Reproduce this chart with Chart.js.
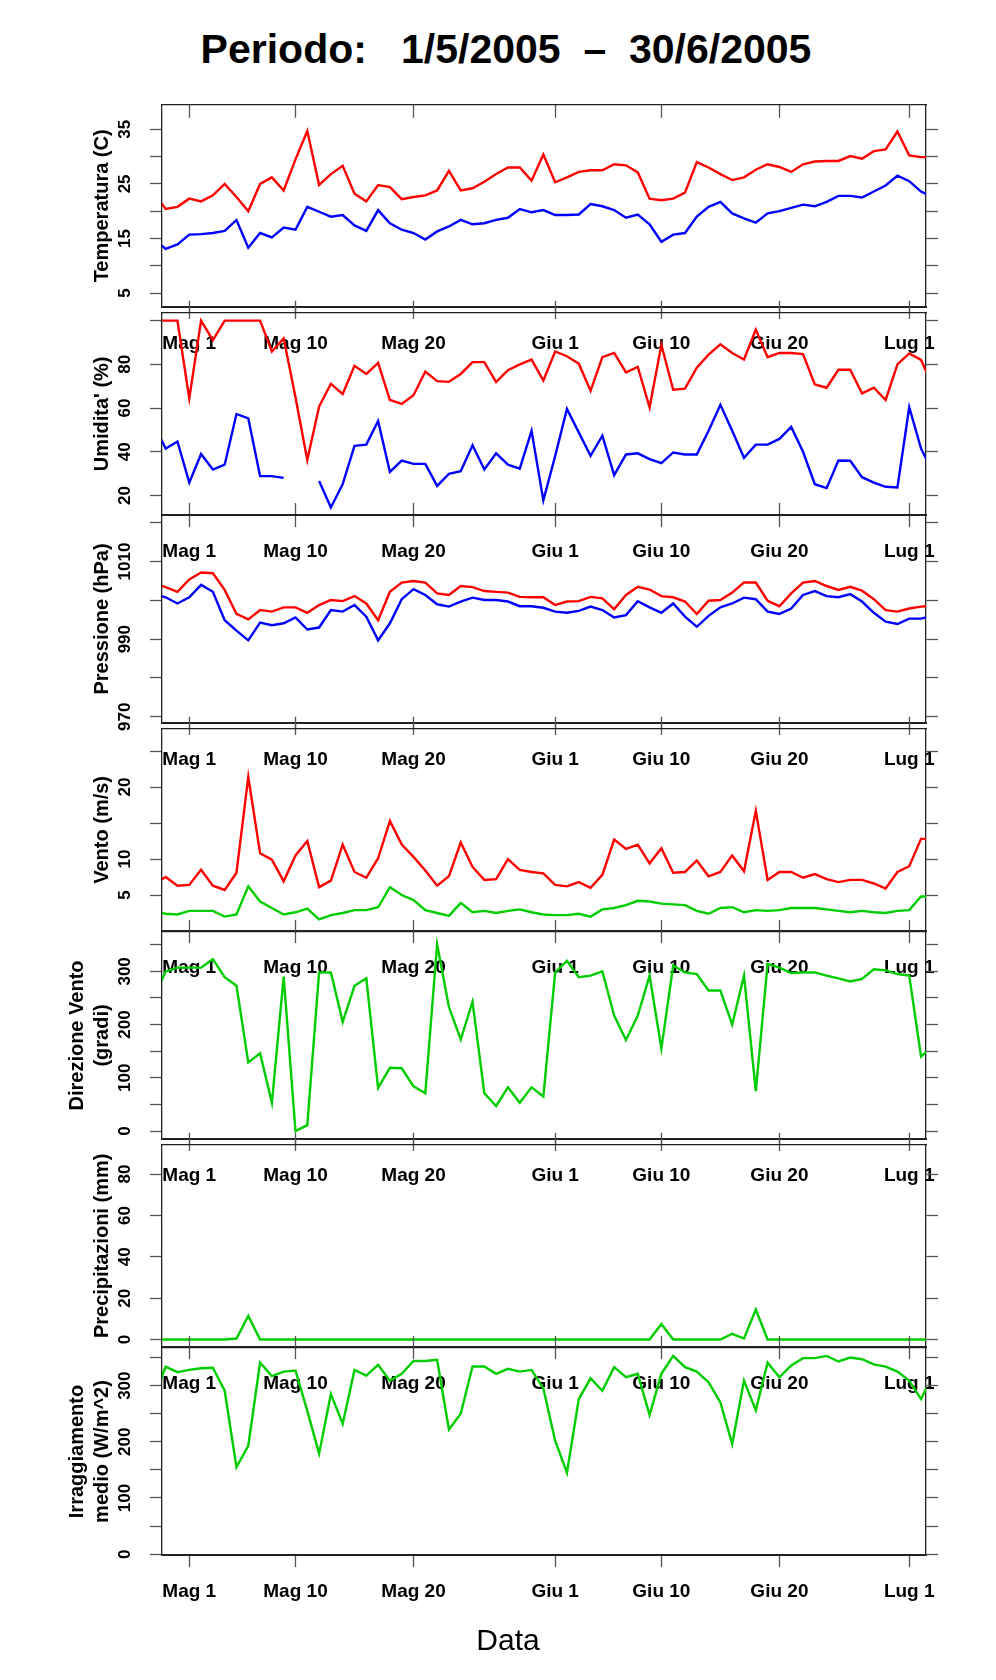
<!DOCTYPE html>
<html>
<head>
<meta charset="utf-8">
<title>Periodo: 1/5/2005 - 30/6/2005</title>
<script src="https://cdn.jsdelivr.net/npm/chart.js@4.4.1/dist/chart.umd.min.js"></script>
<style>
  html, body { margin: 0; padding: 0; background: #fff; }
  body { width: 996px; height: 1680px; position: relative; overflow: hidden; font-family: "Liberation Sans", Arial, sans-serif; color: #000; }
  #title { position: absolute; top: 29px; left: 506px; transform: translateX(-50%); font-size: 41px; font-weight: bold; line-height: 41px; white-space: pre; }
  #xlabel { position: absolute; top: 1625px; left: 508px; transform: translateX(-50%); font-size: 30px; line-height: 30px; }
  canvas { position: absolute; left: 0; }
</style>
</head>
<body>
<div id="title">Periodo:   1/5/2005  –  30/6/2005</div>
<div id="panels"></div>
<div id="xlabel">Data</div>

<script>
// ----------------------
// Data (x = days counted from 1 May 2005)
// ----------------------
const days = [
  -3, -2, -1, 0, 1, 2, 3, 4, 5, 6,
  7, 8, 9, 10, 11, 12, 13, 14, 15, 16,
  17, 18, 19, 20, 21, 22, 23, 24, 25, 26,
  27, 28, 29, 30, 31, 32, 33, 34, 35, 36,
  37, 38, 39, 40, 41, 42, 43, 44, 45, 46,
  47, 48, 49, 50, 51, 52, 53, 54, 55, 56,
  57, 58, 59, 60, 61, 62, 63
];
const dateTicks = [0, 9, 19, 31, 40, 50, 61];
const dateLabels = ["Mag 1", "Mag 10", "Mag 20", "Giu 1", "Giu 10", "Giu 20", "Lug 1"];

const tempMax = [
  23.3, 20.4, 20.8, 22.3, 21.8, 22.9, 25.0, 22.6, 20.0, 25.0,
  26.2, 23.8, 29.5, 34.7, 24.8, 26.8, 28.3, 23.2, 21.8, 24.8,
  24.4, 22.2, 22.6, 22.9, 23.8, 27.4, 23.8, 24.2, 25.4, 26.8,
  28.0, 28.0, 25.6, 30.4, 25.3, 26.2, 27.2, 27.5, 27.5, 28.6,
  28.4, 27.1, 22.3, 22.0, 22.3, 23.4, 29.0, 28.0, 26.8, 25.7,
  26.2, 27.6, 28.6, 28.1, 27.2, 28.6, 29.1, 29.2, 29.2, 30.1,
  29.6, 31.0, 31.3, 34.6, 30.2, 29.9, 29.9
];
const tempMin = [
  14.9, 13.1, 13.9, 15.7, 15.8, 16.0, 16.4, 18.4, 13.3, 16.0,
  15.2, 17.0, 16.6, 20.8, 19.9, 19.0, 19.3, 17.4, 16.4, 20.2,
  17.8, 16.6, 16.0, 14.8, 16.3, 17.2, 18.4, 17.6, 17.8, 18.4,
  18.8, 20.4, 19.8, 20.2, 19.3, 19.3, 19.4, 21.3, 20.9, 20.2,
  18.8, 19.4, 17.6, 14.4, 15.7, 16.0, 19.0, 20.8, 21.7, 19.6,
  18.7, 17.9, 19.6, 20.0, 20.6, 21.2, 20.9, 21.7, 22.8, 22.8,
  22.5, 23.6, 24.7, 26.5, 25.5, 23.6, 22.6
];
const humMax = [
  100, 100, 100, 64.4, 100, 91.1, 100, 100, 100, 100,
  85.9, 91.9, 65.0, 36.3, 60.7, 71.1, 66.4, 79.3, 75.6, 80.7,
  63.7, 61.9, 65.9, 76.7, 72.3, 72.0, 75.6, 81.0, 81.0, 71.9,
  77.3, 80.0, 82.2, 72.6, 85.9, 83.7, 80.3, 67.9, 83.3, 85.2,
  76.3, 78.8, 60.3, 88.9, 68.4, 68.9, 78.5, 84.4, 89.2, 85.2,
  82.2, 95.9, 83.3, 85.2, 85.2, 84.7, 70.8, 69.3, 77.5, 77.5,
  66.7, 69.3, 63.7, 80.0, 85.0, 82.0, 70.0
];
const humMin = [
  52.4, 41.5, 44.7, 25.9, 39.0, 31.9, 34.1, 57.3, 55.3, 28.9,
  28.9, 28.1, null, null, 26.7, 14.5, 25.2, 42.7, 43.3, 54.1,
  30.8, 36.0, 34.5, 34.5, 24.4, 29.9, 31.1, 43.0, 31.9, 39.3,
  34.1, 32.3, 49.6, 17.8, 38.0, 59.6, 48.9, 38.2, 47.4, 29.3,
  38.8, 39.3, 36.7, 34.8, 39.7, 38.8, 38.8, 49.6, 61.5, 49.6,
  37.3, 43.3, 43.3, 45.9, 51.4, 40.0, 25.2, 23.4, 36.0, 35.9,
  28.4, 25.9, 24.0, 23.7, 60.4, 41.5, 30.8
];
const presMax = [
  1004.3, 1003.4, 1002.2, 1005.4, 1007.2, 1007.0, 1002.7, 996.5, 995.1, 997.5,
  997.1, 998.2, 998.2, 996.8, 998.8, 1000.1, 999.8, 1001.1, 999.2, 994.9,
  1002.2, 1004.6, 1005.0, 1004.6, 1001.8, 1001.4, 1003.7, 1003.4, 1002.4, 1002.2,
  1002.0, 1000.9, 1000.8, 1000.8, 998.8, 999.7, 999.8, 1000.9, 1000.5, 997.7,
  1001.4, 1003.5, 1002.8, 1001.1, 1000.8, 999.7, 996.5, 999.9, 1000.1, 1002.0,
  1004.6, 1004.6, 999.9, 998.5, 1001.8, 1004.6, 1005.0, 1003.7, 1002.7, 1003.5,
  1002.5, 1000.3, 997.5, 997.1, 997.9, 998.4, 998.6
];
const presMin = [
  1001.7, 1000.8, 999.2, 1000.8, 1004.0, 1002.2, 994.9, 992.2, 989.7, 994.3,
  993.6, 994.1, 995.6, 992.5, 993.0, 997.5, 997.1, 998.8, 995.8, 989.7,
  994.1, 1000.3, 1002.9, 1001.4, 999.0, 998.4, 999.7, 1000.7, 1000.1, 1000.1,
  999.7, 998.5, 998.5, 998.1, 997.1, 996.8, 997.3, 998.4, 997.5, 995.6,
  996.2, 999.8, 998.2, 996.8, 999.2, 995.8, 993.2, 996.0, 998.2, 999.2,
  1000.7, 1000.3, 997.1, 996.5, 997.9, 1001.4, 1002.4, 1001.1, 1000.8, 1001.6,
  999.7, 996.8, 994.5, 993.9, 995.3, 995.3, 996.0
];
const windMax = [
  6.6, 7.5, 6.3, 6.4, 8.5, 6.3, 5.7, 8.1, 21.4, 10.8,
  9.9, 6.9, 10.5, 12.5, 6.1, 7.0, 12.0, 8.2, 7.4, 10.1,
  15.3, 12.0, 10.3, 8.4, 6.3, 7.6, 12.3, 8.9, 7.1, 7.2,
  10.0, 8.5, 8.2, 8.0, 6.4, 6.2, 6.8, 6.0, 7.8, 12.7,
  11.4, 12.0, 9.4, 11.5, 8.1, 8.2, 9.8, 7.6, 8.2, 10.5,
  8.3, 16.7, 7.1, 8.2, 8.2, 7.4, 7.9, 7.2, 6.8, 7.1,
  7.1, 6.6, 5.9, 8.2, 9.0, 12.8, 12.8
];
const windMean = [
  2.7, 2.4, 2.3, 2.8, 2.8, 2.8, 2.0, 2.3, 6.2, 4.1,
  3.2, 2.3, 2.6, 3.1, 1.6, 2.2, 2.5, 2.9, 2.9, 3.3,
  6.1, 5.0, 4.3, 2.9, 2.5, 2.1, 3.9, 2.6, 2.8, 2.5,
  2.8, 3.0, 2.6, 2.3, 2.2, 2.2, 2.4, 2.0, 3.0, 3.2,
  3.6, 4.2, 4.1, 3.8, 3.7, 3.6, 2.8, 2.4, 3.2, 3.3,
  2.6, 2.9, 2.8, 2.9, 3.2, 3.2, 3.2, 3.0, 2.8, 2.6,
  2.8, 2.6, 2.5, 2.8, 2.9, 4.8, 4.8
];
const windDir = [
  250, 300, 307, 307, 307, 323, 289, 273, 129, 146,
  53, 290, 0, 11, 298, 298, 205, 273, 287, 81,
  119, 118, 84, 71, 351, 233, 172, 243, 71, 47,
  82, 53, 82, 65, 298, 320, 289, 292, 300, 217,
  171, 217, 292, 155, 311, 298, 295, 264, 264, 200,
  292, 75, 314, 307, 297, 298, 298, 292, 287, 281,
  286, 304, 302, 295, 292, 140, 160
];
const rain = [
  0, 0, 0, 0, 0, 0, 0, 0.5, 11.4, 0,
  0, 0, 0, 0, 0, 0, 0, 0, 0, 0,
  0, 0, 0, 0, 0, 0, 0, 0, 0, 0,
  0, 0, 0, 0, 0, 0, 0, 0, 0, 0,
  0, 0, 0, 7.5, 0, 0, 0, 0, 0, 2.8,
  0.5, 14.5, 0, 0, 0, 0, 0, 0, 0, 0,
  0, 0, 0, 0, 0, 0, 0
];
const radiation = [
  278, 334, 324, 328, 331, 332, 291, 155, 193, 341,
  317, 325, 327, 255, 179, 285, 232, 328, 318, 337,
  309, 321, 344, 344, 346, 222, 250, 334, 334, 321,
  330, 325, 328, 295, 202, 145, 276, 313, 291, 333,
  315, 321, 248, 321, 353, 333, 325, 306, 270, 196,
  309, 256, 341, 315, 336, 349, 349, 353, 343, 350,
  347, 338, 334, 325, 309, 276, 319
];

// y tick marks, and the subset that gets a number
const tempTicks = [5, 10, 15, 20, 25, 30, 35];
const tempLabels = [5, 15, 25, 35];
const humTicks = [20, 40, 60, 80, 100];
const humLabels = [20, 40, 60, 80];
const presTicks = [970, 980, 990, 1000, 1010, 1020];
const presLabels = [970, 990, 1010];
const windTicks = [5, 10, 15, 20, 25];
const windLabels = [5, 10, 20];
const dirTicks = [0, 50, 100, 150, 200, 250, 300, 350];
const dirLabels = [0, 100, 200, 300];
const rainTicks = [0, 20, 40, 60, 80];
const rainLabels = [0, 20, 40, 60, 80];
const radTicks = [0, 50, 100, 150, 200, 250, 300, 350];
const radLabels = [0, 100, 200, 300];

// ----------------------
// Layout / style
// ----------------------
const PAGE_W = 996;
const PANEL_TOP = 99;
const PANEL_H = 208;
const PLOT_LEFT = 162;
const PLOT_RIGHT = 926;
const TOP_PAD = 20;
const BOTTOM_PAD = 70;
const X_MIN = -2.31;
const X_MAX = 62.42;

const RED = "#ff0000";
const BLUE = "#0000ff";
const GREEN = "#00cd00";
const BOX_COLOR = "#222";
const TICK_COLOR = "#555";
const FAMILY = '"Liberation Sans", Arial, sans-serif';
const NARROW = '"Liberation Sans Narrow", "Liberation Sans", Arial, sans-serif';
const X_TICK_FONT = { family: FAMILY, size: 19, weight: "bold" };
const Y_TICK_FONT = { family: NARROW, size: 17, weight: "bold" };
const Y_TITLE_FONT = { family: FAMILY, size: 20, weight: "bold", lineHeight: 1.25 };
const LABEL_CENTER_X = 125;

const panels = [
  { title: "Temperatura (C)", min: 2.45, max: 39.5, ticks: tempTicks, labels: tempLabels,
    series: [{ values: tempMax, color: RED }, { values: tempMin, color: BLUE }] },
  { title: "Umidita' (%)", min: 11.1, max: 103.6, ticks: humTicks, labels: humLabels,
    series: [{ values: humMax, color: RED }, { values: humMin, color: BLUE }] },
  { title: "Pressione (hPa)", min: 968.4, max: 1022, ticks: presTicks, labels: presLabels,
    series: [{ values: presMax, color: RED }, { values: presMin, color: BLUE }] },
  { title: "Vento (m/s)", min: 0, max: 28.1, ticks: windTicks, labels: windLabels,
    series: [{ values: windMax, color: RED }, { values: windMean, color: GREEN }] },
  { title: ["Direzione Vento", "(gradi)"], min: -15, max: 374, ticks: dirTicks, labels: dirLabels,
    series: [{ values: windDir, color: GREEN }] },
  { title: "Precipitazioni (mm)", min: -3.6, max: 94.2, ticks: rainTicks, labels: rainLabels,
    series: [{ values: rain, color: GREEN }] },
  { title: ["Irraggiamento", "medio (W/m^2)"], min: -1.5, max: 367, ticks: radTicks, labels: radLabels,
    series: [{ values: radiation, color: GREEN }] }
];

// ----------------------
// Helpers
// ----------------------
const measureCtx = document.createElement("canvas").getContext("2d");
function textWidth(text, font) {
  measureCtx.font = `${font.weight} ${font.size}px ${font.family}`;
  return measureCtx.measureText(text).width;
}

function makePanel(index, cfg) {
  const canvas = document.createElement("canvas");
  const h = TOP_PAD + PANEL_H + BOTTOM_PAD;
  canvas.width = PAGE_W;
  canvas.height = h;
  canvas.style.width = PAGE_W + "px";
  canvas.style.height = h + "px";
  canvas.style.top = (PANEL_TOP + index * PANEL_H - TOP_PAD) + "px";
  document.getElementById("panels").appendChild(canvas);

  // rotated y labels are centred on LABEL_CENTER_X
  const widest = Math.max(...cfg.labels.map(v => textWidth(String(v), Y_TICK_FONT)));
  const twoLines = Array.isArray(cfg.title);

  const yTicks = scale => { scale.ticks = cfg.ticks.map(v => ({ value: v })); };
  const xTicks = scale => { scale.ticks = dateTicks.map(v => ({ value: v })); };

  new Chart(canvas.getContext("2d"), {
    type: "line",
    data: {
      datasets: cfg.series.map(s => ({
        data: days.map((d, i) => ({ x: d, y: s.values[i] })),
        borderColor: s.color,
        borderWidth: 2.4,
        pointRadius: 0,
        tension: 0,
        fill: false
      }))
    },
    options: {
      responsive: false,
      animation: false,
      events: [],
      layout: { padding: 0, autoPadding: false },
      plugins: { legend: { display: false }, tooltip: { enabled: false } },
      scales: {
        x: {
          type: "linear", position: "bottom", min: X_MIN, max: X_MAX,
          afterBuildTicks: xTicks,
          afterFit: scale => { scale.height = BOTTOM_PAD; },
          grid: { drawOnChartArea: false, tickLength: 12, tickColor: TICK_COLOR, tickWidth: 1.3 },
          border: { color: BOX_COLOR, width: 2 },
          ticks: {
            autoSkip: false, minRotation: 0, maxRotation: 0, padding: 13.5,
            color: "#000", font: X_TICK_FONT,
            callback: (v, i) => dateLabels[i]
          }
        },
        xTop: {
          type: "linear", position: "top", min: X_MIN, max: X_MAX,
          afterBuildTicks: xTicks,
          afterFit: scale => { scale.height = TOP_PAD; },
          grid: { drawOnChartArea: false, tickLength: index === 0 ? -13 : 12, tickColor: TICK_COLOR, tickWidth: 1.3 },
          border: { color: BOX_COLOR, width: 1.3 },
          ticks: { display: false }
        },
        y: {
          type: "linear", position: "left", min: cfg.min, max: cfg.max,
          afterBuildTicks: yTicks,
          afterFit: scale => { scale.width = PLOT_LEFT; },
          grid: { drawOnChartArea: false, tickLength: 12, tickColor: TICK_COLOR, tickWidth: 1.3 },
          border: { color: BOX_COLOR, width: 1.3 },
          ticks: {
            autoSkip: false, minRotation: 90, maxRotation: 90, crossAlign: "center",
            padding: PLOT_LEFT - 12 - LABEL_CENTER_X - widest / 2,
            color: "#000", font: Y_TICK_FONT,
            callback: v => (cfg.labels.includes(v) ? String(v) : "")
          },
          title: {
            display: true, text: cfg.title, color: "#000", font: Y_TITLE_FONT,
            padding: { top: twoLines ? 64.5 : 89.5, bottom: 0 }
          }
        },
        yRight: {
          type: "linear", position: "right", min: cfg.min, max: cfg.max,
          afterBuildTicks: yTicks,
          afterFit: scale => { scale.width = PAGE_W - PLOT_RIGHT; },
          grid: { drawOnChartArea: false, tickLength: 12, tickColor: TICK_COLOR, tickWidth: 1.3 },
          border: { color: BOX_COLOR, width: 1.3 },
          ticks: { display: false }
        }
      }
    }
  });
}

// ----------------------
// Build the seven panels
// ----------------------
panels.forEach((cfg, i) => makePanel(i, cfg));
</script>
</body>
</html>
